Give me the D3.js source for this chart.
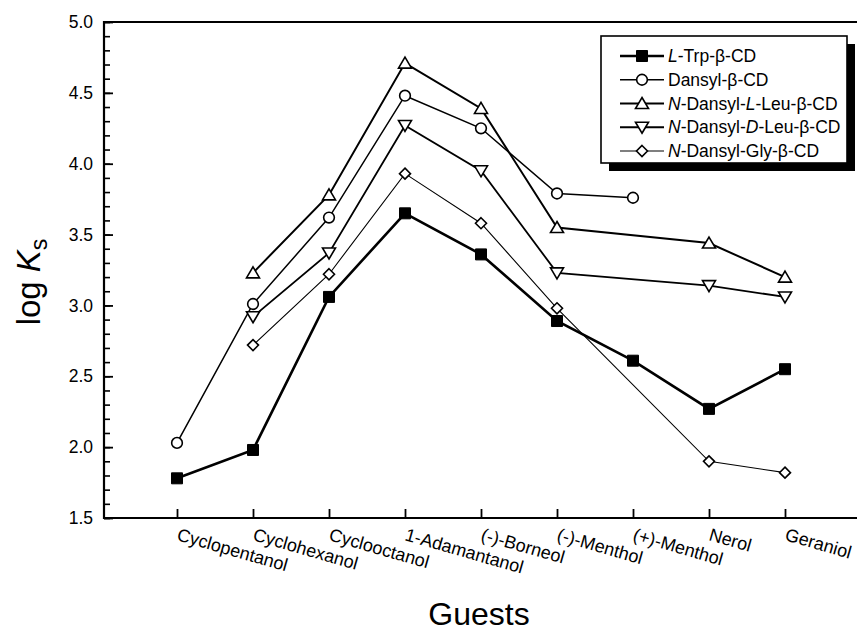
<!DOCTYPE html>
<html>
<head>
<meta charset="utf-8">
<script src="https://cdn.jsdelivr.net/npm/d3@7"></script>
<style>
  body { margin: 0; background: #fff; }
  svg { display: block; font-family: "Liberation Sans", Arial, sans-serif; }
</style>
</head>
<body>
<div id="chart"></div>
<script>
// categories on the x axis
var guests = ["Cyclopentanol", "Cyclohexanol", "Cyclooctanol", "1-Adamantanol",
  "(-)-Borneol", "(-)-Menthol", "(+)-Menthol", "Nerol", "Geraniol"];

// log Ks values per host, null = not measured
var trpCD    = [1.78, 1.98, 3.06, 3.65, 3.36, 2.89, 2.61, 2.27, 2.55];
var dansylCD = [2.03, 3.01, 3.62, 4.48, 4.25, 3.79, 3.76, null, null];
var lLeuCD   = [null, 3.23, 3.78, 4.71, 4.39, 3.55, null, 3.44, 3.20];
var dLeuCD   = [null, 2.92, 3.37, 4.27, 3.95, 3.23, null, 3.14, 3.06];
var glyCD    = [null, 2.72, 3.22, 3.93, 3.58, 2.98, null, 1.90, 1.82];

var yTicks = [1.5, 2.0, 2.5, 3.0, 3.5, 4.0, 4.5, 5.0];

// legend labels, [text, italic?] pieces
var legendNames = [
  [["L", true], ["-Trp-β-CD", false]],
  [["Dansyl-β-CD", false]],
  [["N", true], ["-Dansyl-", false], ["L", true], ["-Leu-β-CD", false]],
  [["N", true], ["-Dansyl-", false], ["D", true], ["-Leu-β-CD", false]],
  [["N", true], ["-Dansyl-Gly-β-CD", false]]
];

var series = [
  { values: trpCD,    marker: "square",  width: 2.6 },
  { values: dansylCD, marker: "circle",  width: 1.5 },
  { values: lLeuCD,   marker: "up",      width: 2.0 },
  { values: dLeuCD,   marker: "down",    width: 1.8 },
  { values: glyCD,    marker: "diamond", width: 1.1 }
];

var W = 857, H = 631;
var plotLeft = 104, plotTop = 22, plotBottom = 518;

var svg = d3.select("#chart").append("svg")
  .attr("width", W)
  .attr("height", H);

var x = d3.scalePoint()
  .domain(guests)
  .range([177, 785]);

var y = d3.scaleLinear()
  .domain([1.5, 5.0])
  .range([plotBottom, plotTop]);

// marker shapes, drawn around 0,0
function markerPath(type) {
  switch (type) {
    case "square":  return "M-5.5,-5.5H5.5V5.5H-5.5Z";
    case "circle":  return d3.symbol(d3.symbolCircle, 90)();
    case "up":      return "M0,-6L6.5,5H-6.5Z";
    case "down":    return "M0,6L6.5,-5H-6.5Z";
    case "diamond": return "M0,-5.5L5.5,0L0,5.5L-5.5,0Z";
  }
}

// minor y ticks
svg.append("g")
  .attr("transform", "translate(" + plotLeft + ",0)")
  .call(d3.axisLeft(y).tickValues(d3.range(15, 51).map(function(d) { return d / 10; }))
    .tickSize(-6).tickFormat(""))
  .call(function(g) { g.select(".domain").remove(); })
  .selectAll("line").attr("stroke", "#000").attr("stroke-width", 1.6);

// major y ticks + labels
svg.append("g")
  .attr("transform", "translate(" + plotLeft + ",0)")
  .call(d3.axisLeft(y).tickValues(yTicks).tickSize(-9).tickPadding(11)
    .tickFormat(d3.format(".1f")))
  .call(function(g) { g.select(".domain").remove(); })
  .call(function(g) {
    g.selectAll("line").attr("stroke", "#000").attr("stroke-width", 1.8);
    g.selectAll("text").attr("font-size", 17.5).attr("fill", "#000")
      .attr("font-family", "Liberation Sans, Arial, sans-serif");
  });

// x ticks
svg.append("g")
  .attr("transform", "translate(0," + plotBottom + ")")
  .call(d3.axisBottom(x).tickSize(-9).tickFormat(""))
  .call(function(g) { g.select(".domain").remove(); })
  .selectAll("line").attr("stroke", "#000").attr("stroke-width", 1.8);

// frame: left, top, bottom lines
svg.append("path")
  .attr("d", "M" + W + "," + plotTop + "H" + plotLeft + "V" + plotBottom + "H" + W)
  .attr("fill", "none")
  .attr("stroke", "#000")
  .attr("stroke-width", 2.2);

// rotated guest labels
svg.append("g").selectAll("text")
  .data(guests)
  .join("text")
    .attr("transform", function(d) { return "translate(" + (x(d) - 1) + ",540) rotate(16)"; })
    .attr("font-size", 18)
    .text(function(d) { return d; });

// lines, skipping missing points
var line = d3.line()
  .x(function(d) { return x(d.guest); })
  .y(function(d) { return y(d.value); });

series.forEach(function(s) {
  var pts = guests.map(function(g, i) { return { guest: g, value: s.values[i] }; })
    .filter(function(p) { return p.value !== null; });

  svg.append("path")
    .datum(pts)
    .attr("d", line)
    .attr("fill", "none")
    .attr("stroke", "#000")
    .attr("stroke-width", s.width);

  svg.append("g").selectAll("path")
    .data(pts)
    .join("path")
      .attr("transform", function(d) { return "translate(" + x(d.guest) + "," + y(d.value) + ")"; })
      .attr("d", markerPath(s.marker))
      .attr("fill", s.marker === "square" ? "#000" : "#fff")
      .attr("stroke", "#000")
      .attr("stroke-width", s.marker === "square" ? 1 : 1.6);
});

// legend box with drop shadow
var lg = svg.append("g");
lg.append("rect").attr("x", 609).attr("y", 44).attr("width", 246).attr("height", 127).attr("fill", "#000");
lg.append("rect").attr("x", 601).attr("y", 36).attr("width", 246).attr("height", 127)
  .attr("fill", "#fff").attr("stroke", "#000").attr("stroke-width", 1.6);

var rowY = d3.scalePoint().domain(d3.range(legendNames.length)).range([56, 151]);

legendNames.forEach(function(parts, i) {
  var s = series[i], yy = rowY(i);
  lg.append("line")
    .attr("x1", 620).attr("x2", 664).attr("y1", yy).attr("y2", yy)
    .attr("stroke", "#000").attr("stroke-width", s.width);
  lg.append("path")
    .attr("transform", "translate(642," + yy + ")")
    .attr("d", markerPath(s.marker))
    .attr("fill", s.marker === "square" ? "#000" : "#fff")
    .attr("stroke", "#000")
    .attr("stroke-width", s.marker === "square" ? 1 : 1.6);
  var t = lg.append("text")
    .attr("x", 668).attr("y", yy + 6)
    .attr("font-size", 17.5);
  parts.forEach(function(p) {
    t.append("tspan")
      .attr("font-style", p[1] ? "italic" : "normal")
      .text(p[0]);
  });
});

// axis titles
svg.append("text")
  .attr("x", 479).attr("y", 625)
  .attr("text-anchor", "middle")
  .attr("font-size", 32)
  .text("Guests");

var yt = svg.append("text")
  .attr("transform", "translate(40,282) rotate(-90)")
  .attr("text-anchor", "middle")
  .attr("font-size", 33);
yt.append("tspan").attr("font-style", "normal").text("log ");
yt.append("tspan").attr("font-style", "italic").text("K");
yt.append("tspan").attr("font-style", "normal").attr("font-size", 23).attr("dy", 7).text("s");
</script>
</body>
</html>
